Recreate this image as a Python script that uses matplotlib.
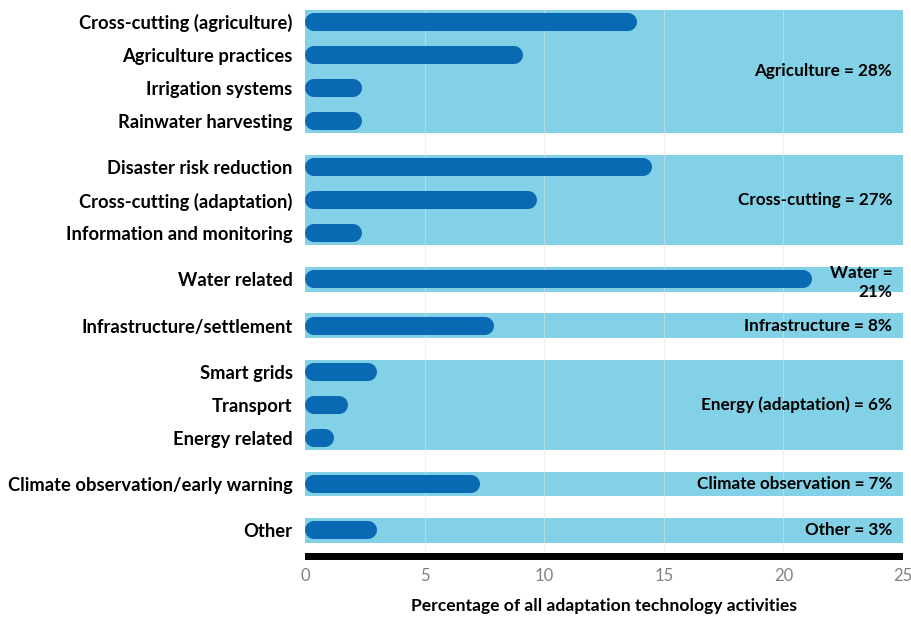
import matplotlib
matplotlib.use("Agg")
from matplotlib import pyplot as plt

# data
categories = ["Cross-cutting (agriculture)", "Agriculture practices", "Irrigation systems",
              "Rainwater harvesting", "Disaster risk reduction", "Cross-cutting (adaptation)",
              "Information and monitoring", "Water related", "Infrastructure/settlement",
              "Smart grids", "Transport", "Energy related",
              "Climate observation/early warning", "Other"]
values = [13.9, 9.1, 2.4, 2.4, 14.5, 9.7, 2.4, 21.2, 7.9, 3.0, 1.8, 1.2, 7.3, 3.0]
group_sizes = [4, 3, 1, 1, 3, 1, 1]
group_labels = ["Agriculture = 28%", "Cross-cutting = 27%", "Water =\n21%",
                "Infrastructure = 8%", "Energy (adaptation) = 6%",
                "Climate observation = 7%", "Other = 3%"]
xticks = [0, 5, 10, 15, 20, 25]

BAND = "#83d1e7"
BAR = "#0a69b3"
FONT = "Lato"

plt.rcParams['font.family'] = [FONT, 'DejaVu Sans']

fig = plt.figure(figsize=(9.12, 6.2), dpi=100)
ax = fig.add_axes([305 / 912, 1 - 560 / 620, 598 / 912, 550 / 620])

# row positions: step 1 inside a group, extra gap between groups
ypos = []
groups = []
y = 0.0
for n in group_sizes:
    rows = [y + i for i in range(n)]
    ypos += rows
    groups.append((rows[0], rows[-1]))
    y = rows[-1] + 1.4

xmax = 25
px_per_unit = 598 / xmax
half = 9 / px_per_unit  # half bar thickness in data units (round caps)

for (a, b), lab in zip(groups, group_labels):
    ax.axhspan(a - 0.37, b + 0.37, color=BAND, lw=0, zorder=1)
    ax.text(24.55, (a + b) / 2 + (0.1 if "\n" in lab else 0), lab, ha="right", va="center",
            fontsize=12.3, fontweight="bold", zorder=4, linespacing=1.25)

for x in xticks[1:-1]:
    ax.axvline(x, color="#e4e4e4", lw=0.8, alpha=0.5, zorder=2)

for yy, v in zip(ypos, values):
    ax.plot([half, v - half], [yy, yy], color=BAR, lw=13, solid_capstyle="round", zorder=3)

ax.axhspan(16.09, 16.3, color="black", lw=0, zorder=3)

ax.set_xlim(0, xmax)
ax.set_ylim(16.3, -0.36)
ax.set_yticks(ypos)
ax.set_yticklabels(categories, fontsize=13.2, fontweight="bold")
ax.set_xticks(xticks)
ax.tick_params(axis="both", length=0)
ax.tick_params(axis="y", pad=9)
ax.tick_params(axis="x", pad=6, labelcolor="#808080", labelsize=12)
for s in ax.spines.values():
    s.set_visible(False)
ax.set_xlabel("Percentage of all adaptation technology activities", fontsize=12.6,
              fontweight="bold", labelpad=10)

fig.savefig("out.png", dpi=100)
